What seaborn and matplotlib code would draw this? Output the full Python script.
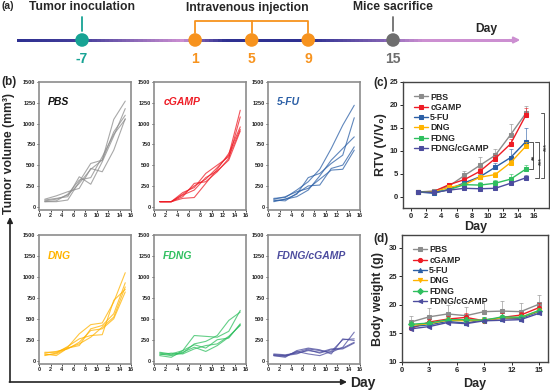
import numpy as np
import pandas as pd
import seaborn as sns
import matplotlib.pyplot as plt
from matplotlib.collections import LineCollection

# ---- timeline (a)
event_days = [-7, 1, 5, 9, 15]
event_labels = ["-7", "1", "5", "9", "15"]
event_colors = ["#17a394", "#f7931e", "#f7931e", "#f7931e", "#6e6e6e"]
event_titles = ["Tumor inoculation", "Intravenous injection", "Mice sacrifice"]
title_days = [-7, 4.7, 15]

# ---- groups
groups = ["PBS", "cGAMP", "5-FU", "DNG", "FDNG", "FDNG/cGAMP"]
colors = ["#8c8c8c", "#ee1c25", "#2b5fa6", "#ffb300", "#2fbf5f", "#4c4c9e"]
title_colors = ["#111111", "#ee1c25", "#2b5fa6", "#ffb300", "#2fbf5f", "#4c4c9e"]
days = [1, 3, 5, 7, 9, 11, 13, 15]

# ---- individual tumor volumes (b), 5 mice per group
vol_pbs = [[70, 90, 140, 280, 450, 560, 1050, 1270],
           [80, 100, 120, 360, 270, 540, 850, 1180],
           [60, 60, 80, 300, 520, 560, 900, 1100],
           [90, 130, 180, 220, 460, 420, 680, 1060],
           [60, 70, 150, 320, 350, 600, 870, 1050]]
vol_cgamp = [[60, 60, 150, 250, 330, 470, 620, 1160],
             [60, 60, 120, 280, 300, 420, 580, 1080],
             [60, 60, 100, 110, 280, 450, 640, 960],
             [60, 60, 170, 230, 400, 500, 600, 930],
             [60, 60, 140, 200, 350, 430, 560, 910]]
vol_5fu = [[100, 110, 200, 300, 450, 700, 980, 1220],
           [70, 90, 150, 350, 400, 520, 620, 1070],
           [60, 90, 120, 200, 370, 560, 700, 840],
           [80, 70, 160, 250, 260, 460, 500, 720],
           [90, 120, 180, 220, 330, 440, 450, 680]]
vol_dng = [[100, 100, 160, 320, 430, 450, 700, 1050],
           [80, 60, 150, 180, 380, 420, 560, 930],
           [60, 90, 170, 260, 300, 310, 720, 850],
           [90, 110, 140, 220, 360, 380, 500, 820],
           [70, 80, 150, 200, 280, 400, 520, 880]]
vol_fdng = [[100, 80, 120, 300, 290, 280, 350, 600],
            [80, 60, 90, 200, 230, 300, 480, 580],
            [60, 40, 120, 190, 150, 250, 270, 440],
            [90, 70, 100, 160, 110, 180, 280, 430],
            [70, 90, 80, 140, 180, 200, 290, 420]]
vol_fdng_cgamp = [[70, 60, 100, 140, 120, 100, 160, 340],
                  [60, 40, 120, 150, 130, 80, 260, 240],
                  [80, 70, 90, 120, 100, 140, 150, 220],
                  [60, 50, 110, 80, 60, 110, 250, 260],
                  [70, 60, 80, 130, 90, 130, 140, 210]]
volumes = [vol_pbs, vol_cgamp, vol_5fu, vol_dng, vol_fdng, vol_fdng_cgamp]

# ---- relative tumor volume (c)
rtv_mean = [[1.0, 1.2, 2.3, 4.6, 6.8, 9.0, 13.5, 18.2],
            [1.0, 1.1, 2.6, 3.7, 5.5, 8.3, 11.5, 17.8],
            [1.0, 0.7, 1.6, 3.0, 4.3, 6.4, 8.5, 12.0],
            [1.0, 1.0, 2.0, 2.6, 4.2, 4.8, 7.4, 11.0],
            [1.0, 0.9, 1.5, 2.6, 2.5, 2.9, 3.8, 6.0],
            [1.0, 0.9, 1.4, 1.8, 1.7, 1.8, 2.9, 4.1]]
rtv_err = [[0.1, 0.5, 0.4, 1.0, 1.8, 1.4, 2.3, 1.5],
           [0.1, 0.2, 0.3, 0.5, 0.8, 0.8, 1.0, 1.6],
           [0.1, 0.1, 0.3, 0.4, 0.6, 1.0, 1.8, 3.0],
           [0.1, 0.1, 0.2, 0.3, 0.4, 0.5, 0.6, 1.0],
           [0.1, 0.2, 0.3, 0.5, 0.6, 0.8, 1.2, 0.9],
           [0.1, 0.1, 0.2, 0.2, 0.3, 0.3, 0.3, 0.6]]
sig_pairs = [(2, 4, "**"), (2, 5, "***"), (0, 5, "***")]

# ---- body weight (d)
bw_mean = [[17.0, 17.9, 18.4, 18.1, 18.8, 18.9, 18.8, 20.1],
           [15.9, 17.0, 17.5, 17.8, 17.2, 17.8, 18.2, 19.5],
           [16.2, 16.5, 17.1, 16.8, 17.4, 17.6, 17.6, 18.8],
           [16.4, 16.7, 17.3, 17.2, 17.3, 17.7, 17.8, 18.9],
           [16.6, 16.8, 17.4, 17.4, 17.3, 17.9, 17.8, 19.0],
           [15.8, 16.2, 16.9, 16.7, 17.2, 17.3, 17.4, 18.5]]
bw_err = [[1.0, 1.5, 1.6, 1.5, 1.9, 1.7, 1.6, 1.6],
          [0.4, 0.5, 0.6, 0.8, 0.5, 0.8, 0.6, 0.8],
          [0.3, 0.4, 0.4, 0.5, 0.4, 0.5, 0.5, 0.6],
          [0.3, 0.3, 0.4, 0.4, 0.4, 0.4, 0.5, 0.5],
          [0.3, 0.4, 0.4, 0.4, 0.5, 0.4, 0.5, 0.5],
          [0.3, 0.3, 0.3, 0.4, 0.3, 0.4, 0.4, 0.4]]
bw_markers = ["s", "o", "^", "v", "D", "<"]

sns.set_style("white")
plt.rcParams['font.family'] = ['Liberation Sans', 'DejaVu Sans']
plt.rcParams['font.weight'] = 'bold'
plt.rcParams['axes.labelweight'] = 'bold'

fig = plt.figure(figsize=(5.5, 3.92), dpi=100)
W, H = 550.0, 392.0


def px_axes(left, top, right, bottom):
    return fig.add_axes([left / W, 1 - bottom / H, (right - left) / W, (bottom - top) / H])


# overlay in pixel coordinates for labels and the (b) frame arrows
ov = fig.add_axes([0, 0, 1, 1])
ov.set_xlim(0, W)
ov.set_ylim(H, 0)
ov.axis('off')
ov.text(1, 6, "(a)", fontsize=7.5, fontweight='bold', va='center')
ov.text(1, 82, "(b)", fontsize=8.5, fontweight='bold', va='center')
ov.text(373, 83, "(c)", fontsize=8.5, fontweight='bold', va='center')
ov.text(373, 239, "(d)", fontsize=8.5, fontweight='bold', va='center')
ov.text(9, 153, "Tumor volume (mm³)", rotation=90, fontsize=8.8, fontweight='bold',
        ha='center', va='center')
ov.text(350, 383, "Day", fontsize=10, fontweight='bold', va='center')
arrow = dict(arrowstyle='-|>', lw=1.2, color='#222222', mutation_scale=8, shrinkA=0, shrinkB=0)
ov.annotate('', xy=(10, 217), xytext=(10, 382), arrowprops=arrow)
ov.annotate('', xy=(347, 382), xytext=(9.4, 382), arrowprops=arrow)

# ---- (a) timeline
ax_a = px_axes(0, 0, W, 65)
scale, origin = 14.135, 181.0
ax_a.set_xlim(-origin / scale, (W - origin) / scale)
ax_a.set_ylim(65, 0)
ax_a.axis('off')

navy = np.array([0.18, 0.19, 0.57])
purple = np.array([0.80, 0.56, 0.82])
xs = np.linspace(-11.5, 23.6, 120)
w = np.interp(xs, [-11.5, -7, 0, 1.5, 3, 9, 14, 17, 24], [0, 0.15, 1, 0.4, 0, 0, 0.5, 1, 1])
cols = [tuple(navy * (1 - a) + purple * a) for a in w]
pts = np.column_stack([xs, np.full_like(xs, 40.0)])
segs = np.stack([pts[:-1], pts[1:]], axis=1)
ax_a.add_collection(LineCollection(segs, colors=cols[:-1], linewidths=1.8,
                                   capstyle='projecting', antialiaseds=False))
ax_a.annotate('', xy=(24.0, 40), xytext=(23.2, 40),
              arrowprops=dict(arrowstyle='-|>', color=tuple(purple), lw=1.5,
                              mutation_scale=9, shrinkA=0, shrinkB=0))

ax_a.plot([-7, -7], [17, 31], color=event_colors[0], lw=1.3)
ax_a.plot([15, 15], [17, 31], color=event_colors[4], lw=1.3)
ax_a.plot([1, 1, 9, 9], [33, 21, 21, 33], color="#f7931e", lw=1.3)
ax_a.plot([5, 5], [21, 33], color="#f7931e", lw=1.3)
sns.scatterplot(x=event_days, y=[40] * len(event_days), hue=event_labels,
                palette=event_colors, s=95, edgecolor='none', legend=False, ax=ax_a, zorder=3)
for d, lab, c in zip(event_days, event_labels, event_colors):
    ax_a.text(d, 59, lab, color=c, fontsize=10, fontweight='bold', ha='center', va='center')
for d, t in zip(title_days, event_titles):
    ax_a.text(d, 7.5, t, fontsize=8.7, fontweight='bold', ha='center', va='center')
ax_a.text(21.6, 29, "Day", fontsize=8.7, fontweight='bold', ha='center', va='center')

# ---- (b) individual growth curves
col_left = [39, 154, 268]
row_top = [82, 235]
row_bot = [210, 364]
for i, (g, c, tc, vols) in enumerate(zip(groups, colors, title_colors, volumes)):
    r, k = divmod(i, 3)
    ax = px_axes(col_left[k], row_top[r], col_left[k] + 92, row_bot[r])
    df = pd.DataFrame([(m, d, v) for m, row in enumerate(vols) for d, v in zip(days, row)],
                      columns=["mouse", "day", "volume"])
    sns.lineplot(data=df, x="day", y="volume", units="mouse", estimator=None,
                 color=c, lw=0.8, alpha=0.75, ax=ax)
    ax.set_xlim(0, 16)
    ax.set_ylim(-40, 1500)
    ax.set_xticks(range(0, 17, 2))
    ax.set_yticks(range(0, 1501, 250))
    ax.set_xlabel("")
    ax.set_ylabel("")
    ax.tick_params(labelsize=4, length=1.5, width=0.6, pad=1, left=True, bottom=True)
    for s in ax.spines.values():
        s.set_color("#8c8c8c")
        s.set_linewidth(1.2)
    ax.text(0.1, 0.84, g, transform=ax.transAxes, color=tc, fontsize=7.5,
            fontweight='bold', fontstyle='italic', va='center')


def style_panel(ax):
    ax.tick_params(labelsize=5.5, length=2, width=0.7, pad=1.5, left=True, bottom=True)
    for s in ax.spines.values():
        s.set_color("#444444")
        s.set_linewidth(1.0)


# ---- (c) RTV
ax_c = px_axes(403, 82, 549, 208)
for g, c, m, e in zip(groups, colors, rtv_mean, rtv_err):
    ax_c.errorbar(days, m, yerr=[np.zeros(len(e)), e], fmt='none', ecolor=c,
                  elinewidth=0.7, capsize=1.5, capthick=0.7, alpha=0.6)
    sns.lineplot(x=days, y=m, marker='s', markersize=3, markeredgecolor=c,
                 color=c, lw=1.0, label=g, ax=ax_c)
brk_x = [15.9, 16.7, 17.4]
for (a, b, star), bx in zip(sig_pairs, brk_x):
    ya, yb = rtv_mean[a][-1], rtv_mean[b][-1]
    ax_c.plot([bx - 0.5, bx, bx, bx - 0.5], [ya, ya, yb, yb], color="#555555", lw=0.7,
              clip_on=False)
    ax_c.text(bx + 0.3, (ya + yb) / 2 - 0.4, star, rotation=90, fontsize=4.8,
              ha='center', va='center', color="#333333", clip_on=False)
ax_c.set_xlim(-1, 18)
ax_c.set_ylim(-2.5, 25)
ax_c.set_xticks(range(0, 17, 2))
ax_c.set_yticks(range(0, 26, 5))
ax_c.set_xlabel("Day", fontsize=9, fontweight='bold', labelpad=1)
ax_c.set_ylabel("RTV (V/V₀)", fontsize=9, fontweight='bold', labelpad=2)
style_panel(ax_c)
ax_c.legend(loc='upper left', frameon=False, fontsize=6.3, handlelength=1.6,
            handletextpad=0.3, labelspacing=0.15, borderaxespad=0.8)

# ---- (d) body weight
ax_d = px_axes(402, 235, 548, 362)
for g, c, m, e, mk in zip(groups, colors, bw_mean, bw_err, bw_markers):
    ax_d.errorbar(days, m, yerr=[np.zeros(len(e)), e], fmt='none', ecolor=c,
                  elinewidth=0.7, capsize=1.5, capthick=0.7, alpha=0.6)
    sns.lineplot(x=days, y=m, marker=mk, markersize=3, markeredgecolor=c,
                 color=c, lw=1.0, label=g, ax=ax_d)
ax_d.set_xlim(0, 16)
ax_d.set_ylim(10, 32.2)
ax_d.set_xticks(range(0, 16, 3))
ax_d.set_yticks(range(10, 31, 5))
ax_d.set_xlabel("Day", fontsize=9, fontweight='bold', labelpad=3)
ax_d.set_ylabel("Body weight (g)", fontsize=9, fontweight='bold', labelpad=3)
style_panel(ax_d)
ax_d.legend(loc='upper left', frameon=False, fontsize=6.3, handlelength=1.6,
            handletextpad=0.3, labelspacing=0.15, borderaxespad=0.8)

fig.savefig("out.png", dpi=100)
